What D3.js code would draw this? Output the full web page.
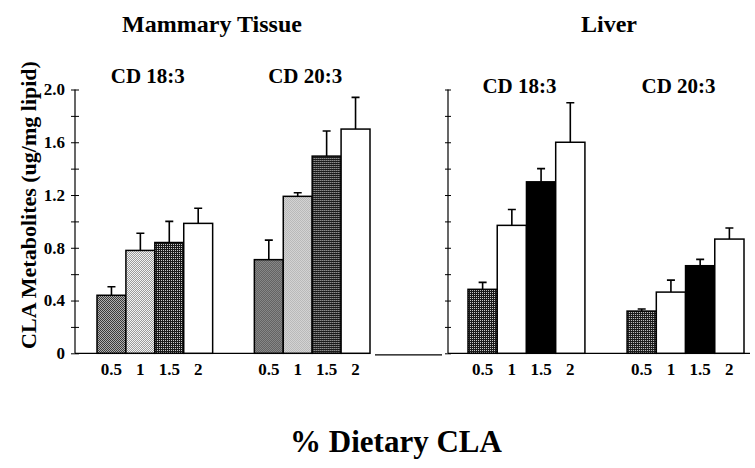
<!DOCTYPE html>
<html>
<head>
<meta charset="utf-8">
<script src="https://cdn.jsdelivr.net/npm/d3@7"></script>
<style>
  body { margin: 0; background: #fff; }
  text { font-family: "Liberation Serif", "Times New Roman", serif; font-weight: bold; fill: #000; }
</style>
</head>
<body>
<div id="chart"></div>
<script>
// Data
var doses = ['0.5', '1', '1.5', '2']
var groups = ['CD 18:3', 'CD 20:3']
var panels = ['Mammary Tissue', 'Liver']

var mammary183 = [0.44, 0.78, 0.84, 0.985]
var mammary183Err = [0.065, 0.13, 0.16, 0.115]
var mammary203 = [0.71, 1.19, 1.495, 1.7]
var mammary203Err = [0.148, 0.027, 0.19, 0.24]
var liver183 = [0.485, 0.97, 1.3, 1.6]
var liver183Err = [0.053, 0.12, 0.1, 0.3]
var liver203 = [0.32, 0.464, 0.664, 0.866]
var liver203Err = [0.016, 0.091, 0.048, 0.084]

var yTicks = d3.range(0, 2.01, 0.2)

var width = 755
var height = 468

var svg = d3.select('#chart')
  .append('svg')
  .attr('width', width)
  .attr('height', height)

// Fill patterns (stippled greys)
var defs = svg.append('defs')
function checker(id, bg, dot) {
  var p = defs.append('pattern')
    .attr('id', id)
    .attr('width', 2)
    .attr('height', 2)
    .attr('patternUnits', 'userSpaceOnUse')
  p.append('rect').attr('width', 2).attr('height', 2).attr('fill', bg)
  p.append('rect').attr('width', 1).attr('height', 1).attr('fill', dot)
  p.append('rect').attr('x', 1).attr('y', 1).attr('width', 1).attr('height', 1).attr('fill', dot)
}
checker('mid', '#3a3a3a', '#b0b0b0')
checker('light', '#f2f2f2', '#9a9a9a')
var pd = defs.append('pattern')
  .attr('id', 'dark')
  .attr('width', 2)
  .attr('height', 2)
  .attr('patternUnits', 'userSpaceOnUse')
pd.append('rect').attr('width', 2).attr('height', 2).attr('fill', '#1a1a1a')
pd.append('rect').attr('width', 1).attr('height', 1).attr('fill', '#c8c8c8')

var fills = {
  'Mammary Tissue': ['url(#mid)', 'url(#light)', 'url(#dark)', '#fff'],
  'Liver': ['url(#dark)', '#fff', '#000', '#fff']
}

var yPositionScale = d3.scaleLinear()
  .domain([0, 2])
  .range([353.3, 89.5])

var panelInfo = [
  { name: 'Mammary Tissue', axisX: 75, range: [97, 370], baseEnd: 370, labelY: 83, titleX: 212,
    series: [[mammary183, mammary183Err], [mammary203, mammary203Err]], labels: true },
  { name: 'Liver', axisX: 448, range: [468, 744], baseEnd: 750, labelY: 93, titleX: 609,
    series: [[liver183, liver183Err], [liver203, liver203Err]], labels: false }
]

panelInfo.forEach(function(p) {
  var g = svg.append('g')

  var groupScale = d3.scaleBand()
    .domain(groups)
    .range(p.range)
    .paddingInner(0.265)

  var doseScale = d3.scaleBand()
    .domain(doses)
    .range([0, groupScale.bandwidth()])

  // y axis
  var yAxis = d3.axisLeft(yPositionScale)
    .tickValues(yTicks)
    .tickSize(4)
    .tickFormat(function(d) {
      if (!p.labels) return ''
      var r = Math.round(d * 10)
      if (r % 4 !== 0) return ''
      return r === 0 ? '0' : d.toFixed(1)
    })
  var ax = g.append('g')
    .attr('transform', 'translate(' + p.axisX + ',0)')
    .call(yAxis)
  ax.select('.domain').remove()
  ax.append('line')
    .attr('y1', yPositionScale(0))
    .attr('y2', yPositionScale(2))
    .attr('stroke', '#000')
    .attr('stroke-width', 1.2)
  ax.selectAll('.tick line')
    .attr('x1', p.labels ? 4 : 3)
    .attr('x2', p.labels ? -4 : -3)
    .attr('stroke', '#000')
  ax.selectAll('.tick text')
    .attr('x', -10)
    .attr('font-size', 17)
    .attr('font-family', '"Liberation Serif", serif')
    .attr('font-weight', 'bold')

  // baseline
  g.append('line')
    .attr('x1', p.axisX)
    .attr('x2', p.baseEnd)
    .attr('y1', yPositionScale(0))
    .attr('y2', yPositionScale(0))
    .attr('stroke', '#000')
    .attr('stroke-width', 1.2)

  // panel title
  g.append('text')
    .attr('x', p.titleX)
    .attr('y', 32)
    .attr('text-anchor', 'middle')
    .attr('font-size', 24)
    .text(p.name)

  groups.forEach(function(grp, gi) {
    var values = p.series[gi][0]
    var errs = p.series[gi][1]
    var gx = groupScale(grp)
    var gg = g.append('g').attr('transform', 'translate(' + gx + ',0)')

    gg.append('text')
      .attr('x', groupScale.bandwidth() / 2)
      .attr('dx', -7)
      .attr('y', p.labelY)
      .attr('text-anchor', 'middle')
      .attr('font-size', 21)
      .text(grp)

    var data = doses.map(function(d, i) {
      return { dose: d, value: values[i], err: errs[i], fill: fills[p.name][i] }
    })

    // error bars
    gg.selectAll('.err')
      .data(data)
      .enter()
      .append('path')
      .attr('class', 'err')
      .attr('d', function(d) {
        var cx = doseScale(d.dose) + doseScale.bandwidth() / 2
        var yt = yPositionScale(d.value + d.err)
        return 'M' + cx + ',' + yPositionScale(d.value) + 'V' + yt +
          'M' + (cx - 4) + ',' + yt + 'H' + (cx + 4)
      })
      .attr('stroke', '#000')
      .attr('stroke-width', 1.6)
      .attr('fill', 'none')

    gg.selectAll('.bar')
      .data(data)
      .enter()
      .append('rect')
      .attr('class', 'bar')
      .attr('x', function(d) { return doseScale(d.dose) })
      .attr('y', function(d) { return yPositionScale(d.value) })
      .attr('width', doseScale.bandwidth())
      .attr('height', function(d) { return yPositionScale(0) - yPositionScale(d.value) })
      .attr('fill', function(d) { return d.fill })
      .attr('stroke', '#000')
      .attr('stroke-width', 1.5)

    gg.selectAll('.xlab')
      .data(data)
      .enter()
      .append('text')
      .attr('class', 'xlab')
      .attr('x', function(d) { return doseScale(d.dose) + doseScale.bandwidth() / 2 })
      .attr('y', 375)
      .attr('text-anchor', 'middle')
      .attr('font-size', 17)
      .text(function(d) { return d.dose })
  })
})

// stray rule between the panels
svg.append('line')
  .attr('x1', 375)
  .attr('x2', 442)
  .attr('y1', yPositionScale(0) + 1.5)
  .attr('y2', yPositionScale(0) + 1.5)
  .attr('stroke', '#000')
  .attr('stroke-width', 1.2)

// axis titles
svg.append('text')
  .attr('transform', 'translate(36,205) rotate(-90)')
  .attr('text-anchor', 'middle')
  .attr('font-size', 22)
  .text('CLA Metabolites (ug/mg lipid)')

svg.append('text')
  .attr('x', 396)
  .attr('y', 452)
  .attr('text-anchor', 'middle')
  .attr('font-size', 31)
  .text('% Dietary CLA')
</script>
</body>
</html>
